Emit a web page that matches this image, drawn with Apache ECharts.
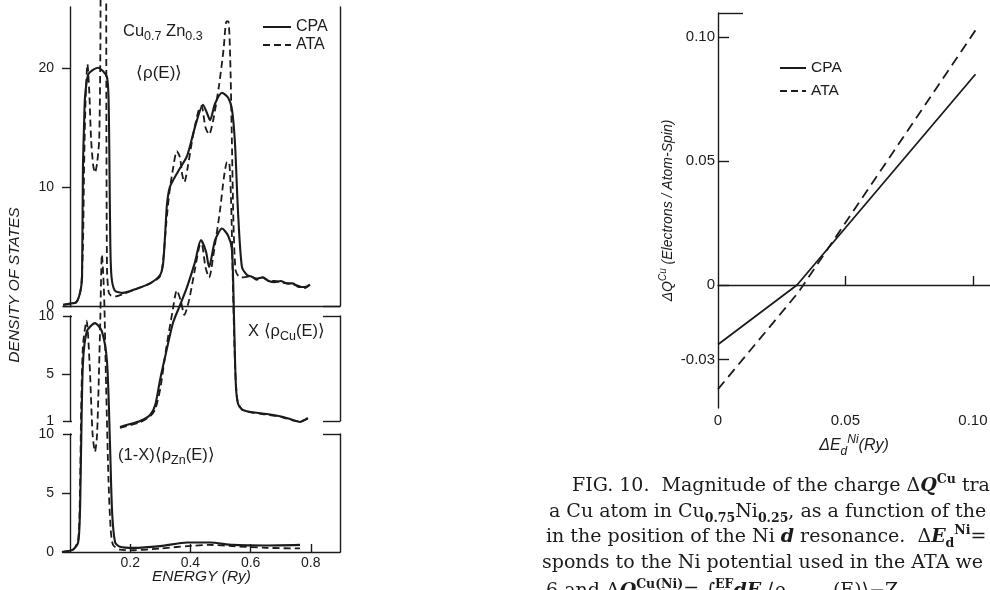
<!DOCTYPE html>
<html><head><meta charset="utf-8">
<script src="https://cdn.jsdelivr.net/npm/echarts@6/dist/echarts.min.js"></script>
<style>html,body{margin:0;padding:0;background:#fff}#c{width:990px;height:590px}</style>
</head><body><div id="c"></div>
<script>
// ---------------- data ----------------
// Energy (Ry) vs density of states, Cu0.7Zn0.3
const totalCPA = [[-0.023,0.1],[0,0.2],[0.02,0.3],[0.03,0.8],[0.037,1.6],[0.04,2.4],[0.043,11.7],[0.047,15.5],[0.05,17.6],[0.06,19.4],[0.075,19.8],[0.093,20],[0.11,19.7],[0.123,19.2],[0.128,17.5],[0.131,12],[0.134,5],[0.138,2.4],[0.149,1.3],[0.176,1.1],[0.216,1.4],[0.266,1.9],[0.299,2.6],[0.309,3.5],[0.316,6],[0.322,8.5],[0.332,10],[0.359,11.3],[0.389,12.6],[0.415,15],[0.442,16.9],[0.455,16.2],[0.465,15.6],[0.482,17],[0.505,17.9],[0.525,17.5],[0.538,16.5],[0.548,13.7],[0.558,8],[0.571,3.3],[0.588,2.6],[0.6,2.5],[0.62,2.3],[0.64,2.4],[0.66,2.1],[0.68,2.0],[0.7,2.1],[0.72,1.9],[0.74,1.9],[0.76,1.6],[0.78,1.6],[0.797,1.8]];
const totalATA = [[-0.023,0.1],[0,0.2],[0.02,0.3],[0.03,0.8],[0.037,1.6],[0.043,5],[0.047,12],[0.052,17.5],[0.058,20.3],[0.064,18],[0.07,14],[0.077,11.8],[0.083,11.2],[0.09,12],[0.097,14],[0.101,22],[0.103,32],[0.118,32],[0.121,14],[0.123,3],[0.128,1.2],[0.135,0.9],[0.15,0.8],[0.176,1.0],[0.216,1.4],[0.266,1.9],[0.299,2.5],[0.31,4],[0.32,7],[0.33,9.5],[0.342,11.5],[0.355,13],[0.365,12.5],[0.373,11],[0.38,10.4],[0.39,11.5],[0.41,14.5],[0.428,16.5],[0.437,16.8],[0.45,15],[0.462,14.4],[0.475,15.5],[0.495,18.5],[0.51,21.5],[0.52,23.9],[0.526,23.9],[0.532,21],[0.537,15],[0.543,7],[0.55,3],[0.56,2.5],[0.571,2.4],[0.6,2.5],[0.62,2.2],[0.64,2.4],[0.66,2.1],[0.68,2.1],[0.7,2.0],[0.72,1.9],[0.74,1.8],[0.76,1.7],[0.78,1.5],[0.797,1.8]];
const cuCPA = [[0.166,0.49],[0.2,0.75],[0.233,1.0],[0.266,1.52],[0.283,2.37],[0.299,4.5],[0.316,6.5],[0.342,9.4],[0.365,10.9],[0.389,12.5],[0.415,14.6],[0.435,16.5],[0.452,15.5],[0.462,14.2],[0.482,16.5],[0.505,17.5],[0.525,16.9],[0.538,15.7],[0.545,9.7],[0.551,4.1],[0.558,2.5],[0.571,2.0],[0.6,1.77],[0.654,1.6],[0.708,1.35],[0.74,1.09],[0.764,0.92],[0.79,1.26]];
const cuATA = [[0.166,0.4],[0.2,0.65],[0.233,0.9],[0.266,1.4],[0.283,2.0],[0.3,3.8],[0.32,7.3],[0.34,10.3],[0.355,12.2],[0.368,11.3],[0.38,10.1],[0.395,11.3],[0.415,14],[0.43,16],[0.437,16.2],[0.45,14.2],[0.462,13.3],[0.478,15.5],[0.498,19],[0.512,22],[0.522,23.2],[0.528,23.2],[0.535,20],[0.541,13],[0.548,6],[0.556,2.8],[0.571,2.0],[0.6,1.75],[0.654,1.55],[0.708,1.3],[0.74,1.05],[0.764,0.95],[0.79,1.2]];
const znCPA = [[-0.027,0],[0.01,0.2],[0.027,0.8],[0.033,3.3],[0.037,9],[0.043,16],[0.056,18.7],[0.083,19.4],[0.106,18.7],[0.123,16.1],[0.133,9],[0.14,3.3],[0.15,0.8],[0.166,0.45],[0.21,0.35],[0.3,0.5],[0.39,0.8],[0.465,0.8],[0.54,0.6],[0.654,0.55],[0.764,0.6]];
const znATA = [[-0.027,0],[0.01,0.2],[0.027,1],[0.033,5],[0.037,12],[0.043,17.5],[0.055,19.6],[0.065,16],[0.075,10],[0.083,8.5],[0.09,10],[0.1,19],[0.106,25.2],[0.113,22],[0.12,14],[0.128,6],[0.135,2],[0.143,0.6],[0.166,0.2],[0.21,0.15],[0.3,0.3],[0.39,0.5],[0.465,0.6],[0.54,0.5],[0.654,0.35],[0.764,0.3]];
// Delta E_d^Ni (Ry) vs Delta Q^Cu
const dqCPA = [[0,-0.024],[0.031,0],[0.101,0.085]];
const dqATA = [[0,-0.042],[0.0315,-0.003],[0.1015,0.1035]];
// tick labels
const energyTicks = [0.2, 0.4, 0.6, 0.8];
const totalTicks = [0, 10, 20];
const cuTicks = [1, 5, 10];
const znTicks = [0, 5, 10];
const dEdTicks = [0, 0.05, 0.10];
const dqTicks = [-0.03, 0, 0.05, 0.10];
const legendNames = ['CPA', 'ATA'];

// ---------------- styling ----------------
const INK = '#1b1b1b';
const SANS = "'Liberation Sans', Arial, sans-serif";
const SERIF = "'DejaVu Serif', 'Liberation Serif', serif";
const XMIN = -0.0233, XMAX = 0.897;
const AXL = {show: true, lineStyle: {color: INK, width: 1.4}};
const LBL = {color: INK, fontFamily: SANS, fontSize: 14};

function stubAxis(grid, min, max, vals, pos, len) {
  return {type: 'value', gridIndex: grid, min, max, position: pos,
    axisLine: {show: false}, splitLine: {show: false}, axisLabel: {show: false},
    axisTick: {show: true, inside: true, length: len, customValues: vals, lineStyle: {color: INK, width: 1.4}}};
}
function mainAxis(grid, min, max, labels, outTicks) {
  return {type: 'value', gridIndex: grid, min, max, position: 'left',
    axisLine: AXL, splitLine: {show: false},
    axisTick: {show: true, inside: false, length: 8, customValues: outTicks, lineStyle: {color: INK, width: 1.4}},
    axisLabel: Object.assign({show: true, margin: 9, customValues: labels}, LBL)};
}
function sideAxis(grid, min, max, vals) {
  return {type: 'value', gridIndex: grid, min, max, position: 'right',
    axisLine: AXL, splitLine: {show: false}, axisLabel: {show: false},
    axisTick: {show: true, inside: true, length: 17, customValues: vals, lineStyle: {color: INK, width: 1.4}}};
}
function curve(name, data, xi, yi, dashed, w) {
  return {type: 'line', name, data, xAxisIndex: xi, yAxisIndex: yi, symbol: 'none', showSymbol: false,
    clip: false, smooth: 0.25, animation: false, itemStyle: {color: INK},
    lineStyle: {color: INK, width: w || 2, type: dashed ? [7, 4] : 'solid'}};
}
const fmtDq = v => v === 0 ? '0' : v.toFixed(2);

const TOTMAX = 25.1, CUMIN = 1, CUMAX = 10, ZNMAX = 10;
const DQMIN = -0.0496, DQMAX = 0.1097, DEMAX = 0.1067;

const rs = {
  b: {fontSize: 16.5, fontFamily: SANS, fill: INK, lineHeight: 24, verticalAlign: 'middle'},
  s: {fontSize: 12.5, fontFamily: SANS, fill: INK, lineHeight: 12, verticalAlign: 'bottom'}
};
const CF = 19;
const cap = {
  t: {fontSize: CF, fontFamily: SERIF, fill: INK, lineHeight: 26, verticalAlign: 'middle'},
  ti: {fontSize: CF, fontFamily: SERIF, fontStyle: 'italic', fontWeight: 'bold', fill: INK, lineHeight: 26, verticalAlign: 'middle'},
  sb: {fontSize: 12.5, fontFamily: SERIF, fill: INK, lineHeight: 12, verticalAlign: 'bottom', fontWeight: 'bold'},
  sp: {fontSize: 12.5, fontFamily: SERIF, fill: INK, lineHeight: 12, verticalAlign: 'top', fontWeight: 'bold'}
};
function capLine(x, y, text) {
  return {type: 'text', x, y, silent: true, style: {text, rich: cap, verticalAlign: 'middle'}};
}
const legendCommon = {orient: 'vertical', selectedMode: false, padding: 0, data: legendNames,
  itemStyle: {color: 'rgba(0,0,0,0)', borderWidth: 0, opacity: 0}};

const option = {
  animation: false,
  backgroundColor: '#ffffff',
  grid: [
    {left: 63, top: 7, width: 277, height: 299, containLabel: false, outerBoundsMode: 'none'},
    {left: 63, top: 316, width: 277, height: 105, containLabel: false, outerBoundsMode: 'none'},
    {left: 63, top: 434, width: 277, height: 118, containLabel: false, outerBoundsMode: 'none'},
    {left: 718, top: 13, width: 272, height: 395, containLabel: false, outerBoundsMode: 'none'}
  ],
  legend: [
    Object.assign({left: 262, top: 19, itemWidth: 28, itemHeight: 10, itemGap: 2,
      textStyle: {color: INK, fontFamily: SANS, fontSize: 16}}, legendCommon),
    Object.assign({left: 779, top: 60, itemWidth: 26, itemHeight: 10, itemGap: 7,
      textStyle: {color: INK, fontFamily: SANS, fontSize: 15.5}}, legendCommon)
  ],
  xAxis: [
    {type: 'value', gridIndex: 0, min: XMIN, max: XMAX, position: 'top', axisLine: AXL,
     axisTick: {show: false}, axisLabel: {show: false}, splitLine: {show: false}},
    {type: 'value', gridIndex: 1, min: XMIN, max: XMAX, show: false},
    {type: 'value', gridIndex: 2, min: XMIN, max: XMAX, position: 'bottom', axisLine: AXL, splitLine: {show: false},
     axisTick: {show: true, inside: true, length: 8, customValues: energyTicks, lineStyle: {color: INK, width: 1.4}},
     axisLabel: Object.assign({show: true, margin: 4, customValues: energyTicks, formatter: v => v.toFixed(1)}, LBL),
     name: 'ENERGY (Ry)', nameLocation: 'middle', nameGap: 17, nameMoveOverlap: false,
     nameTextStyle: {color: INK, fontFamily: SANS, fontSize: 15.5, fontStyle: 'italic'}},
    {type: 'value', gridIndex: 3, min: 0, max: DEMAX, position: 'bottom', axisLine: AXL, splitLine: {show: false},
     axisTick: {show: true, inside: true, length: 9, customValues: dEdTicks.slice(1), lineStyle: {color: INK, width: 1.4}},
     axisLabel: Object.assign({show: true, margin: 5, customValues: dEdTicks, formatter: fmtDq}, LBL, {fontSize: 15}),
     name: '{i|ΔE}{s|d}{p|Ni}{i|(Ry)}', nameLocation: 'middle', nameGap: 26, nameMoveOverlap: false,
     nameTextStyle: {color: INK, fontFamily: SANS, fontSize: 16, fontStyle: 'italic',
       rich: {i: {fontSize: 16, fontStyle: 'italic', fontFamily: SANS, color: INK, lineHeight: 24, verticalAlign: 'middle'},
              s: {fontSize: 12, fontStyle: 'italic', fontFamily: SANS, color: INK, lineHeight: 12, verticalAlign: 'bottom'},
              p: {fontSize: 12, fontStyle: 'italic', fontFamily: SANS, color: INK, lineHeight: 12, verticalAlign: 'top'}}}}
  ],
  yAxis: [
    mainAxis(0, 0, TOTMAX, totalTicks, totalTicks.slice(1)),           // 0
    stubAxis(0, 0, TOTMAX, [0], 'left', 9),                           // 1
    sideAxis(0, 0, TOTMAX, [0]),                                      // 2
    mainAxis(1, CUMIN, CUMAX, cuTicks, [5]),                          // 3
    stubAxis(1, CUMIN, CUMAX, [CUMIN, CUMAX], 'left', 9),             // 4
    sideAxis(1, CUMIN, CUMAX, [CUMIN, CUMAX]),                        // 5
    mainAxis(2, 0, ZNMAX, znTicks, [5]),                              // 6
    stubAxis(2, 0, ZNMAX, [ZNMAX], 'left', 9),                        // 7
    sideAxis(2, 0, ZNMAX, [ZNMAX]),                                   // 8
    {type: 'value', gridIndex: 3, min: DQMIN, max: DQMAX, position: 'left', axisLine: AXL, splitLine: {show: false},
     axisTick: {show: true, inside: true, length: 11, customValues: dqTicks, lineStyle: {color: INK, width: 1.4}},
     axisLabel: Object.assign({show: true, margin: 3, customValues: dqTicks, formatter: fmtDq}, LBL, {fontSize: 15}),
     name: '{i|ΔQ}{p|Cu}{i| (Electrons / Atom-Spin)}', nameLocation: 'middle', nameGap: 40, nameRotate: 90,
     nameMoveOverlap: false,
     nameTextStyle: {color: INK, fontFamily: SANS, fontSize: 14, fontStyle: 'italic',
       rich: {i: {fontSize: 14, fontStyle: 'italic', fontFamily: SANS, color: INK, lineHeight: 20, verticalAlign: 'middle'},
              p: {fontSize: 10, fontStyle: 'italic', fontFamily: SANS, color: INK, lineHeight: 10, verticalAlign: 'top'}}}}, // 9
    stubAxis(3, DQMIN, DQMAX, [DQMAX], 'left', 25)                    // 10
  ],
  series: [
    curve('CPA', totalCPA, 0, 0, false, 2.1),
    curve('ATA', totalATA, 0, 0, true, 1.8),
    curve('CPA', cuCPA, 1, 3, false, 2.1),
    curve('ATA', cuATA, 1, 3, true, 1.8),
    curve('CPA', znCPA, 2, 6, false, 2.1),
    curve('ATA', znATA, 2, 6, true, 1.8),
    Object.assign(curve('CPA', dqCPA, 3, 9, false, 1.8), {smooth: false}),
    Object.assign(curve('ATA', dqATA, 3, 9, true, 1.8), {smooth: false, lineStyle: {color: INK, width: 1.8, type: [10, 6]}})
  ],
  graphic: [
    {type: 'text', x: 123, y: 31, silent: true, style: {text: '{b|Cu}{s|0.7}{b| Zn}{s|0.3}', rich: rs, verticalAlign: 'middle'}},
    {type: 'text', x: 136, y: 73, silent: true, style: {text: '⟨ρ(E)⟩', font: '17px ' + SANS, fill: INK, verticalAlign: 'middle'}},
    {type: 'text', x: 248, y: 331, silent: true, style: {text: '{b|X ⟨ρ}{s|Cu}{b|(E)⟩}', rich: rs, verticalAlign: 'middle'}},
    {type: 'text', x: 118, y: 455, silent: true, style: {text: '{b|(1-X)⟨ρ}{s|Zn}{b|(E)⟩}', rich: rs, verticalAlign: 'middle'}},
    {type: 'text', x: 15, y: 285, rotation: Math.PI / 2, silent: true,
     style: {text: 'DENSITY OF STATES', font: 'italic 15.5px ' + SANS, fill: INK, align: 'center', verticalAlign: 'middle'}},
    capLine(572, 486, '{t|FIG. 10.  Magnitude of the charge Δ}{ti|Q}{sp|Cu}{t| tra}'),
    capLine(549, 512, '{t|a Cu atom in Cu}{sb|0.75}{t|Ni}{sb|0.25}{t|, as a function of the}'),
    capLine(546, 537, '{t|in the position of the Ni }{ti|d}{t| resonance.  Δ}{ti|E}{sb|d}{sp|Ni}{t|=}'),
    capLine(542, 563, '{t|sponds to the Ni potential used in the ATA we}'),
    capLine(546, 591, '{t|6 and Δ}{ti|Q}{sp|Cu(Ni)}{t|= ∫}{sp|EF}{ti|dE}{t| ⟨ρ}{sb|Cu(Ni)}{t|(E)⟩−Z}')
  ]
};
const chart = echarts.init(document.getElementById('c'), null, {renderer: 'canvas'});
chart.setOption(option);
</script></body></html>
